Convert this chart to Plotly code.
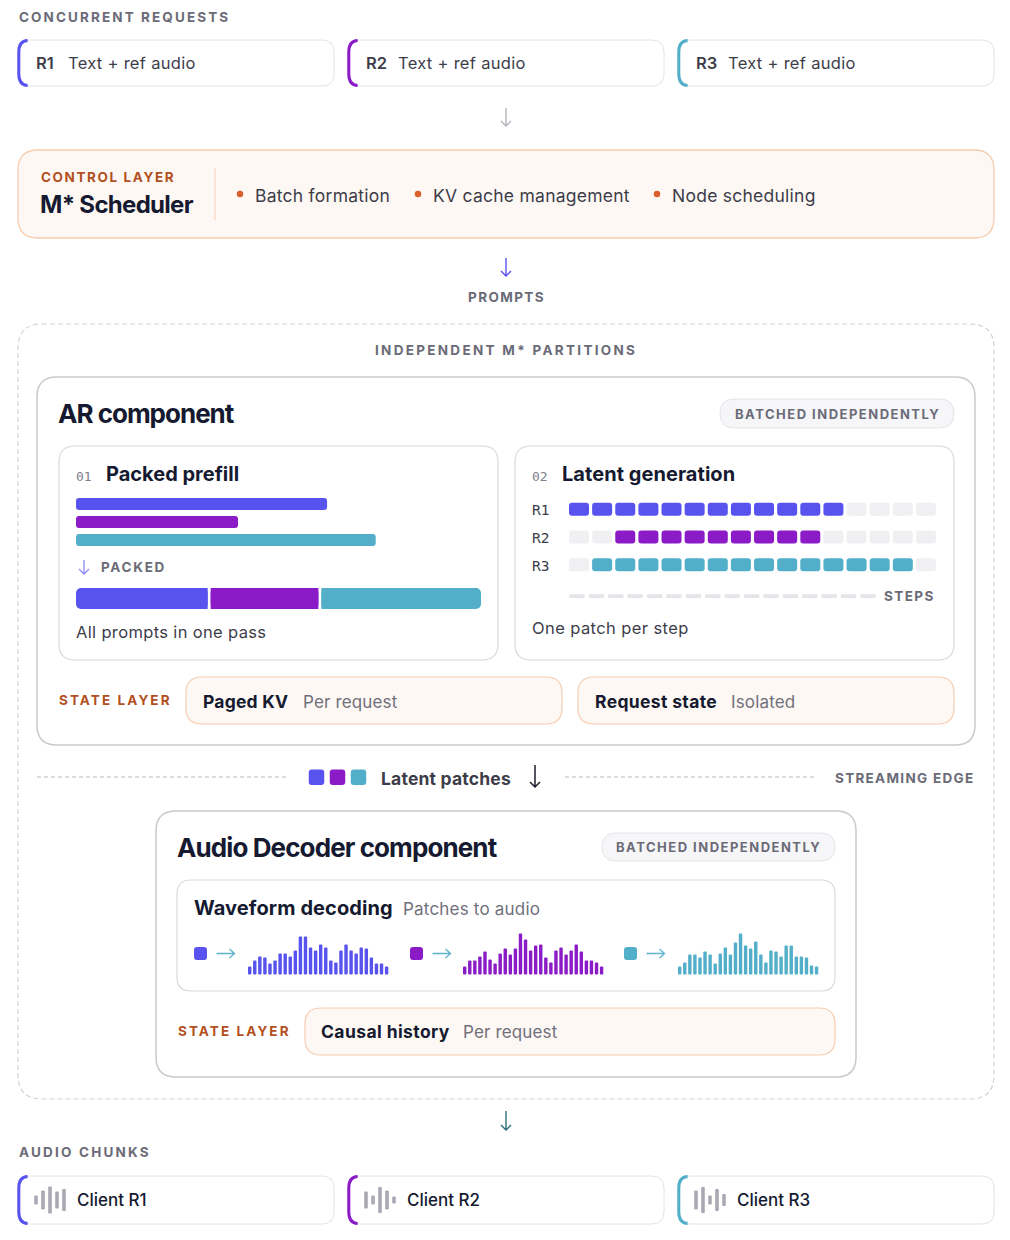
import plotly.graph_objects as go

# ---------------- data ----------------
requests = ["R1", "R2", "R3"]
req_colors = ["#5852EE", "#8A1BC7", "#52AEC9"]
req_text = "Text + ref audio"
scheduler_items = ["Batch formation", "KV cache management", "Node scheduling"]

# prefill prompt length (% of track) and share of the packed sequence
prefill_len = [62, 40, 74]
packed_share = [33, 27, 40]

# latent generation: 16 steps, active step range per request
n_steps = 16
latent_first = [0, 2, 1]
latent_last = [11, 10, 14]

# decoded waveform amplitudes per request
wave_r1 = [8, 14, 18, 17, 11, 14, 21, 21, 18, 24, 38, 38, 27, 24, 30, 27, 14, 12, 24, 30, 24, 21, 27, 26, 17, 11, 11, 8]
wave_r2 = [8, 14, 14, 18, 23, 15, 11, 21, 26, 20, 26, 41, 35, 24, 29, 30, 17, 12, 24, 27, 20, 24, 30, 23, 14, 14, 12, 8]
wave_r3 = [8, 12, 20, 20, 17, 23, 20, 11, 21, 27, 20, 32, 41, 29, 26, 33, 20, 12, 24, 23, 18, 29, 29, 18, 18, 17, 9, 8]
waves = [wave_r1, wave_r2, wave_r3]

# small audio icon on the client cards
icon_r1 = [9, 19, 27, 17, 22]
icon_r2 = [17, 9, 26, 19, 7]
icon_r3 = [19, 26, 9, 22, 12]
icons = [icon_r1, icon_r2, icon_r3]
clients = ["Client R1", "Client R2", "Client R3"]

# ---------------- styles ----------------
FONT = "Inter"
MONO = "DejaVu Sans Mono"
NAVY = "#151a30"
DARK = "#3d3d4a"
GREY = "#6b6b78"
MUTED = "#70707c"
ORANGE = "#b3501f"
DOT = "#d95f2b"
PEACH_FILL = "#fef8f4"
PEACH_LINE = "#f6cdb0"
CARD_LINE = "#e4e4e9"
BOX_LINE = "#c9c9cf"
OFF = "#f0f0f3"

shapes = []
annotations = []
fig = go.Figure()


def rrect(x0, y0, x1, y1, r, fill="white", line=CARD_LINE, width=1.0, dash=None):
    p = (f"M{x0+r},{y0} L{x1-r},{y0} Q{x1},{y0} {x1},{y0+r} L{x1},{y1-r} "
         f"Q{x1},{y1} {x1-r},{y1} L{x0+r},{y1} Q{x0},{y1} {x0},{y1-r} "
         f"L{x0},{y0+r} Q{x0},{y0} {x0+r},{y0} Z")
    ln = dict(color=line, width=width)
    if dash:
        ln["dash"] = dash
    shapes.append(dict(type="path", path=p, xref="x", yref="y", fillcolor=fill,
                       line=ln, layer="below"))


def accent(x0, y0, y1, r, color):
    p = f"M{x0+r*0.8},{y0+0.5} Q{x0+0.8},{y0+1} {x0+0.8},{y0+r} L{x0+0.8},{y1-r} Q{x0+0.8},{y1-1} {x0+r*0.8},{y1-0.5}"
    shapes.append(dict(type="path", path=p, xref="x", yref="y", line=dict(color=color, width=3), layer="below"))


def line(x0, y0, x1, y1, color, width=1.0, dash=None):
    ln = dict(color=color, width=width)
    if dash:
        ln["dash"] = dash
    shapes.append(dict(type="line", x0=x0, y0=y0, x1=x1, y1=y1, xref="x", yref="y", line=ln, layer="below"))


def down_arrow(x, y0, y1, color, width=1.4):
    p = f"M{x},{y0} L{x},{y1} M{x-5},{y1-5} L{x},{y1} L{x+5},{y1-5}"
    shapes.append(dict(type="path", path=p, xref="x", yref="y", line=dict(color=color, width=width)))


def right_arrow(x0, x1, y, color, width=1.3):
    p = f"M{x0},{y} L{x1},{y} M{x1-5},{y-4.5} L{x1},{y} L{x1-5},{y+4.5}"
    shapes.append(dict(type="path", path=p, xref="x", yref="y", line=dict(color=color, width=width)))


def txt(x, y, s, size, color, weight=400, anchor="left", family=FONT, ls=None):
    if ls is not None:
        s = f"<span style='letter-spacing:{ls}px'>{s}</span>"
    annotations.append(dict(x=x, y=y, xref="x", yref="y", text=s, showarrow=False,
                            xanchor=anchor, yanchor="middle",
                            font=dict(family=family, size=size, color=color, weight=weight)))


def bars_v(xs, bases, hs, width, colors, radius):
    fig.add_trace(go.Bar(x=xs, y=hs, base=bases, width=width, marker=dict(color=colors, cornerradius=radius, line=dict(width=0)),
                         hoverinfo="skip", showlegend=False))


def bars_h(ys, bases, ls_, width, colors, radius):
    fig.add_trace(go.Bar(y=ys, x=ls_, base=bases, width=width, orientation="h",
                         marker=dict(color=colors, cornerradius=radius, line=dict(width=0)),
                         hoverinfo="skip", showlegend=False))


card_x = [18, 348, 678]
card_w = 316

# ---------------- concurrent requests ----------------
txt(17, 17, "CONCURRENT REQUESTS", 13.5, GREY, 700, ls=2.1)
for i, r in enumerate(requests):
    x0 = card_x[i]
    rrect(x0, 40, x0 + card_w, 86, 12)
    accent(x0, 40, 86, 12, req_colors[i])
    txt(x0 + 16, 63, r, 16.5, DARK, 600)
    txt(x0 + 48, 63, req_text, 16.5, DARK, 400, ls=0.3)

down_arrow(506, 108, 126, "#b5b5bd")

# ---------------- scheduler ----------------
rrect(18, 150, 994, 238, 20, fill=PEACH_FILL, line=PEACH_LINE, width=1.3)
txt(39, 177, "CONTROL LAYER", 13.5, ORANGE, 700, ls=1.6)
txt(38, 204, "M* Scheduler", 24, NAVY, 700, ls=-0.7)
line(215, 168, 215, 220, "#f6d7c2", 1.2)
item_x = [240, 418, 657]
fig.add_trace(go.Scatter(x=item_x, y=[194] * len(item_x), mode="markers",
                         marker=dict(color=DOT, size=6.5), hoverinfo="skip", showlegend=False))
for xi, it in zip(item_x, scheduler_items):
    txt(xi + 13, 195, it, 17.5, DARK, 400, ls=0.25)

down_arrow(506, 258, 276, "#5b54f0")
txt(506, 297, "PROMPTS", 13.5, GREY, 700, anchor="center", ls=1.4)

# ---------------- partitions ----------------
rrect(18, 324, 994, 1099, 24, fill="rgba(0,0,0,0)", line="#d2d2d8", width=1.2, dash="5px,3px")
txt(506, 350, "INDEPENDENT M* PARTITIONS", 13.5, GREY, 700, anchor="center", ls=2.3)

# AR component
rrect(37, 377, 975, 745, 20, line=BOX_LINE, width=1.5)
txt(56, 413, "AR component", 26, NAVY, 700, ls=-1.0)
rrect(720, 399, 954, 428, 14.5, fill="#f6f6f8", line="#e4e4e9")
txt(837, 414, "BATCHED INDEPENDENTLY", 13, GREY, 700, anchor="center", ls=1.5)

# packed prefill card
rrect(59, 446, 498, 660, 16, line="#d9d9de", width=1.2)
txt(74, 476, "01", 13, "#80808c", 400, family=MONO)
txt(104, 474, "Packed prefill", 20, NAVY, 700, ls=0)
track_x0, track_w = 76, 405
bars_h([504, 522, 540], [track_x0] * 3, [v / 100 * track_w for v in prefill_len], 12, req_colors, 3)
down_arrow(84, 560, 574, "#8f8af5", 1.3)
txt(99, 567, "PACKED", 13.5, GREY, 700, ls=1.7)
gap = 3
seg_w = [s / sum(packed_share) * (track_w - gap * (len(packed_share) - 1)) for s in packed_share]
seg_x = [track_x0]
for w in seg_w[:-1]:
    seg_x.append(seg_x[-1] + w + gap)
# rounded outer ends, square inner joins
bars_h([598.5] * 3, seg_x, seg_w, 21, req_colors, 5)
bars_h([598.5, 598.5], [seg_x[0] + seg_w[0] / 2, seg_x[1]], [seg_w[0] / 2, seg_w[1]], 21,
       [req_colors[0], req_colors[1]], 0)
bars_h([598.5], [seg_x[2]], [seg_w[2] / 2], 21, [req_colors[2]], 0)
txt(74, 632, "All prompts in one pass", 16.5, DARK, 400, ls=0.35)

# latent generation card
rrect(515, 446, 954, 660, 16, line="#d9d9de", width=1.2)
txt(530, 476, "02", 13, "#80808c", 400, family=MONO)
txt(560, 474, "Latent generation", 20, NAVY, 700, ls=0.05)
cell_x0, pitch, cell_w = 569, 23.13, 20
row_top = [502.7, 530.5, 558.3]
step_x = [cell_x0 + cell_w / 2 + k * pitch for k in range(n_steps)]
for i, r in enumerate(requests):
    txt(530, row_top[i] + 7.5, r, 14.5, DARK, 400, family=MONO)
    cols = [req_colors[i] if latent_first[i] <= k <= latent_last[i] else OFF for k in range(n_steps)]
    bars_v(step_x, [row_top[i]] * n_steps, [13] * n_steps, cell_w, cols, 3)
dash_pitch = 19.4
dash_x = [cell_x0 + 8 + k * dash_pitch for k in range(n_steps)]
bars_v(dash_x, [594.3] * n_steps, [3.6] * n_steps, 15.5, "#e5e5e9", 1.8)
txt(937, 596, "STEPS", 13.5, GREY, 700, anchor="right", ls=1.4)
txt(530, 628, "One patch per step", 16.5, DARK, 400, ls=0.4)

# state layer row
txt(57, 700, "STATE LAYER", 13.5, ORANGE, 700, ls=2.1)
rrect(186, 677, 562, 724, 16, fill=PEACH_FILL, line=PEACH_LINE, width=1.2)
txt(201, 701, "Paged KV", 17.5, NAVY, 700, ls=0.2)
txt(301, 702, "Per request", 17, MUTED, 400, ls=0.15)
rrect(578, 677, 954, 724, 16, fill=PEACH_FILL, line=PEACH_LINE, width=1.2)
txt(593, 701, "Request state", 17.5, NAVY, 700, ls=0.35)
txt(729, 702, "Isolated", 17, MUTED, 400, ls=0.15)

# streaming edge
line(37, 777, 287, 777, "#b9b9c1", 1, "4px,3px")
line(565, 777, 815, 777, "#b9b9c1", 1, "4px,3px")
bars_v([316.5, 337.5, 358.5], [769.5] * 3, [15.5] * 3, 15.5, req_colors, 3)
txt(379, 778, "Latent patches", 17.5, DARK, 700, ls=0.2)
down_arrow(535, 765, 787, "#1e1e2c", 1.5)
txt(976, 778, "STREAMING EDGE", 13.5, GREY, 700, anchor="right", ls=1.3)

# audio decoder component
rrect(156, 811, 856, 1077, 20, line=BOX_LINE, width=1.5)
txt(175, 847, "Audio Decoder component", 26, NAVY, 700, ls=-0.9)
rrect(602, 833, 835, 861, 14, fill="#f6f6f8", line="#e4e4e9")
txt(718, 847, "BATCHED INDEPENDENTLY", 13, GREY, 700, anchor="center", ls=1.5)
rrect(177, 880, 835, 991, 14, line="#d9d9de", width=1.2)
txt(192, 908, "Waveform decoding", 20, NAVY, 700, ls=0.1)
txt(401, 909, "Patches to audio", 17, MUTED, 400, ls=0.2)
patch_x = [200.5, 416.5, 630.5]
wave_x0 = [249.7, 464.7, 679.7]
wave_pitch = 5.07
bars_v(patch_x, [947] * 3, [13] * 3, 13, req_colors, 3)
for i, w in enumerate(waves):
    right_arrow(patch_x[i] + 16, patch_x[i] + 34, 953.5, "#5fb3cc")
    xs = [wave_x0[i] + k * wave_pitch for k in range(len(w))]
    bars_v(xs, [974.5] * len(w), [-v for v in w], 3.4, req_colors[i], 1.5)

txt(176, 1031, "STATE LAYER", 13.5, ORANGE, 700, ls=2.1)
rrect(305, 1008, 835, 1055, 16, fill=PEACH_FILL, line=PEACH_LINE, width=1.2)
txt(319, 1031, "Causal history", 17.5, NAVY, 700, ls=0.4)
txt(461, 1032, "Per request", 17, MUTED, 400, ls=0.15)

down_arrow(506, 1111, 1130, "#2f6f80")

# ---------------- audio chunks ----------------
txt(17, 1152, "AUDIO CHUNKS", 13.5, GREY, 700, ls=2.2)
for i, c in enumerate(clients):
    x0 = card_x[i]
    rrect(x0, 1176, x0 + card_w, 1224, 12)
    accent(x0, 1176, 1224, 12, req_colors[i])
    ix = [x0 + 18 + k * 7 for k in range(len(icons[i]))]
    bars_v(ix, [1200 - h / 2 for h in icons[i]], icons[i], 3.6, "#a9a9b4", 1.8)
    txt(x0 + 57, 1200, c, 17, NAVY, 500)

fig.update_layout(
    width=1010, height=1240,
    margin=dict(l=0, r=0, t=0, b=0),
    paper_bgcolor="white", plot_bgcolor="white",
    barmode="overlay",
    shapes=shapes, annotations=annotations,
    xaxis=dict(range=[0, 1010], visible=False, fixedrange=True),
    yaxis=dict(range=[1240, 0], visible=False, fixedrange=True),
    font=dict(family=FONT),
)

fig.write_html("out.html", config={"displayModeBar": False},
               post_script="document.body.style.margin='0';document.body.style.overflow='hidden';")
